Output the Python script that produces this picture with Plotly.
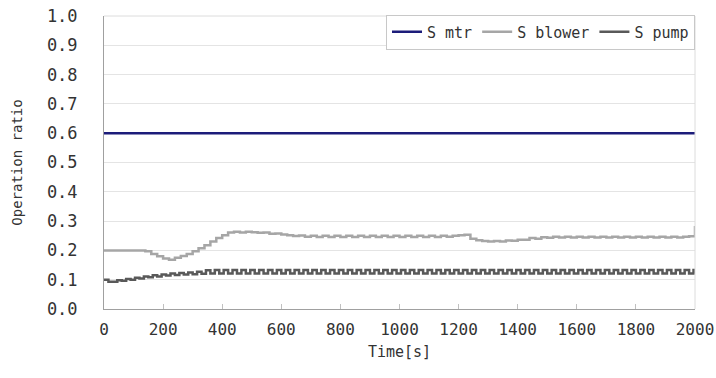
import plotly.graph_objects as go

# ---- data ----
mtr_time = [0, 2000]
mtr_values = [0.6, 0.6]

blower_time = list(range(0, 2001, 20))
blower_values = [
    0.200, 0.200, 0.200, 0.200, 0.200, 0.200, 0.200, 0.197, 0.188, 0.180,  # 0-180
    0.172, 0.168, 0.175, 0.181, 0.188, 0.197, 0.207, 0.218, 0.230, 0.242,  # 200-380
    0.252, 0.261, 0.264, 0.261, 0.264, 0.262, 0.260, 0.261, 0.257, 0.258,  # 400-580
    0.254, 0.252, 0.249, 0.251, 0.247, 0.250, 0.246, 0.250, 0.246, 0.250,  # 600-780
    0.246, 0.250, 0.246, 0.250, 0.246, 0.250, 0.246, 0.250, 0.246, 0.250,  # 800-980
    0.246, 0.250, 0.246, 0.250, 0.246, 0.250, 0.246, 0.250, 0.247, 0.250,  # 1000-1180
    0.252, 0.253, 0.240, 0.235, 0.232, 0.230, 0.232, 0.230, 0.234, 0.233,  # 1200-1380
    0.236, 0.236, 0.242, 0.240, 0.245, 0.243, 0.247, 0.244, 0.247, 0.244,  # 1400-1580
    0.247, 0.244, 0.247, 0.244, 0.247, 0.244, 0.247, 0.244, 0.247, 0.244,  # 1600-1780
    0.247, 0.244, 0.247, 0.244, 0.247, 0.244, 0.247, 0.244, 0.247, 0.248,  # 1800-1980
    0.283,                                                                 # 2000
]

pump_time = list(range(0, 1996, 15)) + [2000]
pump_values = [
    0.100, 0.093, 0.093, 0.098, 0.096, 0.102, 0.100, 0.107, 0.104, 0.111,
    0.108, 0.115, 0.111, 0.118, 0.114, 0.121, 0.116, 0.123, 0.118, 0.125,
    0.119, 0.127, 0.120, 0.132, 0.121, 0.133, 0.121, 0.133, 0.121, 0.133,
    0.121, 0.133, 0.121, 0.133, 0.121, 0.133, 0.121, 0.133, 0.121, 0.133,
    0.121, 0.133, 0.121, 0.133, 0.121, 0.133, 0.121, 0.133, 0.121, 0.133,
    0.121, 0.133, 0.121, 0.133, 0.121, 0.133, 0.121, 0.133, 0.121, 0.133,
    0.121, 0.133, 0.121, 0.133, 0.121, 0.133, 0.121, 0.133, 0.121, 0.133,
    0.121, 0.133, 0.121, 0.133, 0.121, 0.133, 0.121, 0.133, 0.121, 0.133,
    0.121, 0.133, 0.121, 0.133, 0.121, 0.133, 0.121, 0.133, 0.121, 0.133,
    0.121, 0.133, 0.121, 0.133, 0.121, 0.133, 0.121, 0.133, 0.121, 0.133,
    0.121, 0.133, 0.121, 0.133, 0.121, 0.133, 0.121, 0.133, 0.121, 0.133,
    0.121, 0.133, 0.121, 0.133, 0.121, 0.133, 0.121, 0.133, 0.121, 0.133,
    0.121, 0.133, 0.121, 0.133, 0.121, 0.133, 0.121, 0.133, 0.121, 0.133,
    0.121, 0.133, 0.121, 0.133, 0.121,
]

x_ticks = [0, 200, 400, 600, 800, 1000, 1200, 1400, 1600, 1800, 2000]
y_ticks = [0.0, 0.1, 0.2, 0.3, 0.4, 0.5, 0.6, 0.7, 0.8, 0.9, 1.0]
y_tick_labels = ["0.0", "0.1", "0.2", "0.3", "0.4", "0.5", "0.6", "0.7", "0.8", "0.9", "1.0"]

FONT = "DejaVu Sans Mono"
TEXT = "#333333"

fig = go.Figure()
fig.add_trace(go.Scatter(x=mtr_time, y=mtr_values, mode="lines", name="S mtr",
                         line=dict(color="#1c1c7a", width=2.5)))
fig.add_trace(go.Scatter(x=blower_time, y=blower_values, mode="lines", name="S blower",
                         line=dict(color="#a6a6a6", width=2.5, shape="hv")))
fig.add_trace(go.Scatter(x=pump_time, y=pump_values, mode="lines", name="S pump",
                         line=dict(color="#595959", width=2.5, shape="hv")))

fig.update_layout(
    width=716, height=378,
    margin=dict(l=104, r=21, t=16, b=69, autoexpand=False),
    paper_bgcolor="white", plot_bgcolor="white",
    font=dict(family=FONT, color=TEXT, size=15),
    showlegend=True,
    legend=dict(orientation="h", x=1, xanchor="right", y=1.005, yanchor="top",
                bordercolor="#c8c8c8", borderwidth=1, bgcolor="white",
                font=dict(family=FONT, size=15, color=TEXT),
                itemwidth=30, tracegroupgap=0),
)
fig.update_xaxes(
    range=[0, 2000], tickvals=x_ticks, ticktext=[str(v) for v in x_ticks],
    showgrid=False, zeroline=False, automargin=False,
    showline=True, linecolor="#a0a0a0", linewidth=1,
    ticks="inside", ticklen=5, tickcolor="#c0c0c0",
    tickfont=dict(family=FONT, size=16, color=TEXT),
    ticklabelstandoff=6,
    title=dict(text="Time[s]", font=dict(family=FONT, size=15, color=TEXT), standoff=8),
)
fig.update_yaxes(
    range=[0, 1.0], tickvals=y_ticks, ticktext=y_tick_labels,
    showgrid=True, gridcolor="#e4e4e4", gridwidth=1, zeroline=False, automargin=False,
    showline=True, linecolor="#a0a0a0", linewidth=1,
    ticks="", ticklabelstandoff=22,
    tickfont=dict(family=FONT, size=17, color=TEXT),
    title=dict(text="Operation ratio", font=dict(family=FONT, size=14, color=TEXT), standoff=20),
)
# light frame on top and right
fig.add_shape(type="line", xref="paper", yref="paper", x0=0, x1=1, y0=1, y1=1,
              line=dict(color="#dcdcdc", width=1))
fig.add_shape(type="line", xref="paper", yref="paper", x0=1, x1=1, y0=0, y1=1,
              line=dict(color="#dcdcdc", width=1))

fig.write_html("out.html",
               config={"displayModeBar": False},
               post_script="document.body.style.margin='0px';document.body.style.overflow='hidden';")
